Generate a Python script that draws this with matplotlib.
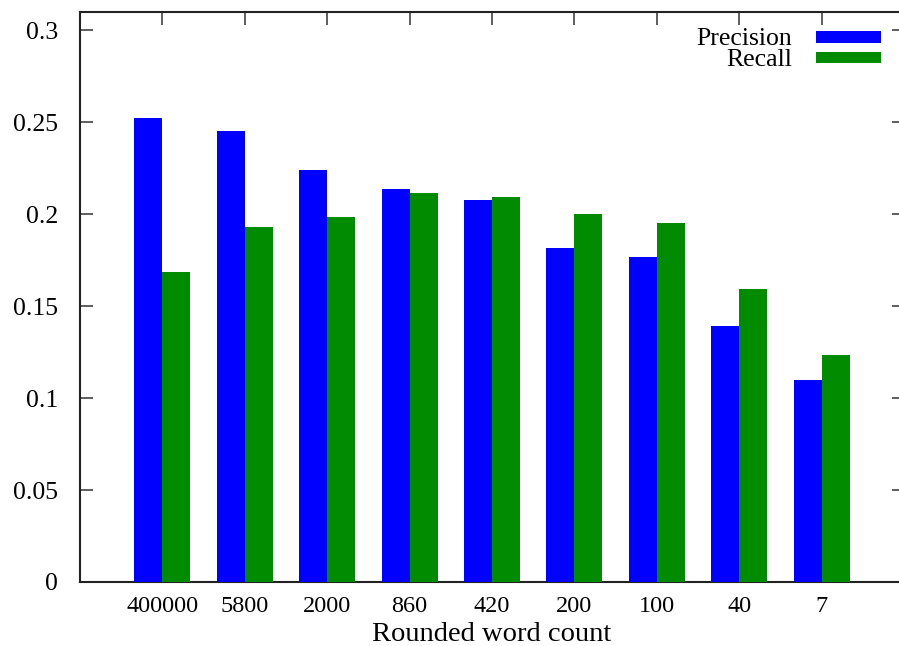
import numpy as np
import matplotlib
matplotlib.use("Agg")
import matplotlib.pyplot as plt
from matplotlib.patches import Rectangle

categorias = ["400000", "5800", "2000", "860", "420", "200", "100", "40", "7"]
precision = [0.2526, 0.2455, 0.2243, 0.2140, 0.2080, 0.1818, 0.1769, 0.1394, 0.1100]
recall = [0.1688, 0.1933, 0.1987, 0.2118, 0.2096, 0.2004, 0.1955, 0.1595, 0.1236]

plt.rcParams["font.family"] = ["Liberation Serif", "DejaVu Serif"]

fig = plt.figure(figsize=(8.99, 6.46), dpi=100)
# o eixo passa um pouco da borda direita, como no original
ax = fig.add_axes([80 / 899, 64 / 646, 824 / 899, 570 / 646])

x = np.arange(len(categorias))
largura = 0.34
azul = "#0000ff"
verde = "#008b00"
ax.bar(x - largura / 2, precision, largura, color=azul, linewidth=0, zorder=3)
ax.bar(x + largura / 2, recall, largura, color=verde, linewidth=0, zorder=3)

ax.set_xlim(-1, 9)
ax.set_ylim(0, 0.31)
ax.set_xticks(x)
ax.set_xticklabels(categorias)
ax.set_yticks([0, 0.05, 0.1, 0.15, 0.2, 0.25, 0.3])
ax.set_yticklabels(["0", "0.05", "0.1", "0.15", "0.2", "0.25", "0.3"])

ax.tick_params(axis="y", direction="in", length=9, width=1.1, color="#333333",
               left=True, right=True, labelsize=18.5, pad=16)
ax.tick_params(axis="x", direction="in", length=9, width=1.1, color="#333333",
               bottom=False, top=True, labelsize=17.5, pad=10)
for s in ax.spines.values():
    s.set_linewidth(1.5)
    s.set_color("#222222")

ax.set_xlabel("Rounded word count", fontsize=20.5, labelpad=4)

# legenda manual (texto alinhado a direita)
ax.text(0.864, 0.942, "Precision", transform=ax.transAxes, ha="right",
        va="baseline", fontsize=18.5)
ax.text(0.864, 0.905, "Recall", transform=ax.transAxes, ha="right",
        va="baseline", fontsize=18.5)
ax.add_patch(Rectangle((0.8932, 0.9461), 0.0789, 0.0202, transform=ax.transAxes,
                       color=azul, linewidth=0, zorder=4))
ax.add_patch(Rectangle((0.8932, 0.9100), 0.0789, 0.0202, transform=ax.transAxes,
                       color=verde, linewidth=0, zorder=4))

fig.savefig("out.png", dpi=100)
